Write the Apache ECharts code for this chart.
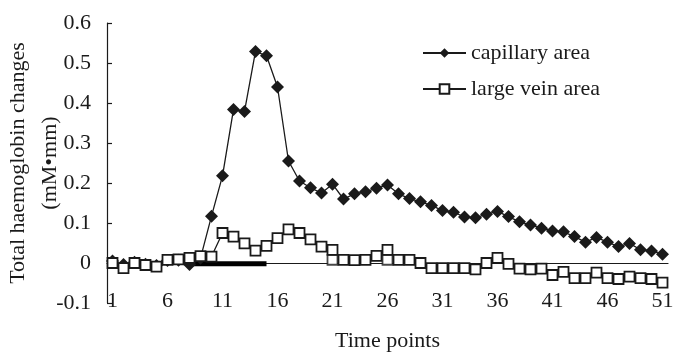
<!DOCTYPE html>
<html lang="en">
<head>
  <meta charset="UTF-8">
  <title>Total haemoglobin changes</title>
  <script src="https://cdn.jsdelivr.net/npm/echarts@6/dist/echarts.min.js"></script>
  <style>
    html, body { margin: 0; padding: 0; background: #fff; }
  </style>
</head>
<body>
<div id="main" style="width:674px;height:358px;"></div>
<script>
  //时间点 1..51
  const timePoints = [];
  for (let i = 1; i <= 51; i++) timePoints.push(String(i));

  //capillary area
  const capillary = [
    0.005, -0.004, 0.002, -0.003, -0.006, 0.006, 0.007, -0.004, 0.012, 0.117,
    0.218, 0.384, 0.379, 0.529, 0.518, 0.440, 0.255, 0.205, 0.188, 0.175,
    0.197, 0.160, 0.173, 0.178, 0.187, 0.195, 0.173, 0.161, 0.153, 0.144,
    0.131, 0.127, 0.115, 0.113, 0.122, 0.129, 0.116, 0.103, 0.095, 0.087,
    0.080, 0.078, 0.066, 0.052, 0.064, 0.052, 0.041, 0.049, 0.033, 0.030,
    0.022
  ];
  //large vein area
  const vein = [
    0.000, -0.013, 0.000, -0.005, -0.009, 0.008, 0.009, 0.013, 0.017, 0.016,
    0.075, 0.066, 0.049, 0.031, 0.043, 0.062, 0.084, 0.075, 0.059, 0.041,
    0.033, 0.008, 0.007, 0.008, 0.018, 0.033, 0.008, 0.008, 0.000, -0.013,
    -0.013, -0.013, -0.013, -0.016, 0.000, 0.013, -0.002, -0.014, -0.016, -0.014,
    -0.030, -0.022, -0.038, -0.038, -0.024, -0.038, -0.040, -0.034, -0.038, -0.040,
    -0.049
  ];
  //重叠的方块
  const veinExtra = timePoints.map((t, i) => (i === 20 || i === 25) ? 0.008 : null);
  //刺激时段（粗黑线）
  const stimulus = timePoints.map((t, i) => (i >= 7 && i <= 14) ? -0.002 : null);

  const yTicks = { min: -0.1, max: 0.6, interval: 0.1 };

  const font = "'Liberation Serif', 'Times New Roman', serif";
  const ink = '#1a1a1a';

  let option = {
    animation: false,
    grid: { left: 107, right: 6, top: 23, bottom: 55, containLabel: false, outerBoundsMode: 'none' },
    legend: {
      orient: 'vertical',
      left: 417,
      top: 37,
      itemWidth: 43,
      itemHeight: 12,
      itemGap: 14,
      data: ['capillary area', 'large vein area'],
      textStyle: { fontFamily: font, fontSize: 22, color: ink }
    },
    xAxis: [
      {
        type: 'category',
        data: timePoints,
        boundaryGap: true,
        position: 'bottom',
        axisLine: { show: false, onZero: false },
        axisTick: { show: false },
        axisLabel: { interval: 4, margin: -13, fontFamily: font, fontSize: 22, color: ink },
        name: 'Time points',
        nameLocation: 'middle',
        nameGap: 27,
        nameMoveOverlap: false,
        nameTextStyle: { fontFamily: font, fontSize: 22, color: ink }
      },
      {
        type: 'category',
        data: timePoints,
        boundaryGap: true,
        position: 'bottom',
        axisLine: { onZero: true, lineStyle: { color: ink, width: 1.2 } },
        axisTick: { inside: true, interval: 4, length: 6, lineStyle: { color: ink, width: 1.2 } },
        axisLabel: { show: false }
      }
    ],
    yAxis: {
      type: 'value',
      min: yTicks.min,
      max: yTicks.max,
      interval: yTicks.interval,
      axisLine: { show: true, lineStyle: { color: ink, width: 1.2 } },
      axisTick: { show: true, inside: true, length: 5, lineStyle: { color: ink, width: 1.2 } },
      splitLine: { show: false },
      axisLabel: { margin: 16, fontFamily: font, fontSize: 22, color: ink },
      name: 'Total haemoglobin changes\n(mM\u2022mm)',
      nameLocation: 'middle',
      nameRotate: 90,
      nameGap: 41,
      nameMoveOverlap: false,
      nameTextStyle: { fontFamily: font, fontSize: 22, color: ink, lineHeight: 32 }
    },
    series: [
      {
        name: 'stimulus',
        type: 'line',
        data: stimulus,
        symbol: 'none',
        lineStyle: { color: '#000', width: 5 },
        silent: true
      },
      {
        name: 'capillary area',
        type: 'line',
        data: capillary,
        symbol: 'diamond',
        symbolSize: 13,
        showAllSymbol: true,
        itemStyle: { color: ink },
        lineStyle: { color: ink, width: 1.3 }
      },
      {
        name: 'veinExtra',
        type: 'scatter',
        data: veinExtra,
        symbol: 'rect',
        symbolSize: 10,
        itemStyle: { color: '#fff', borderColor: ink, borderWidth: 1.8 }
      },
      {
        name: 'large vein area',
        type: 'line',
        data: vein,
        symbol: 'rect',
        symbolSize: 10,
        showAllSymbol: true,
        itemStyle: { color: '#fff', borderColor: ink, borderWidth: 1.8 },
        lineStyle: { color: ink, width: 1.3 }
      }
    ]
  };
  let myChart = echarts.init(document.getElementById('main'));
  myChart.setOption(option);
</script>
</body>
</html>
